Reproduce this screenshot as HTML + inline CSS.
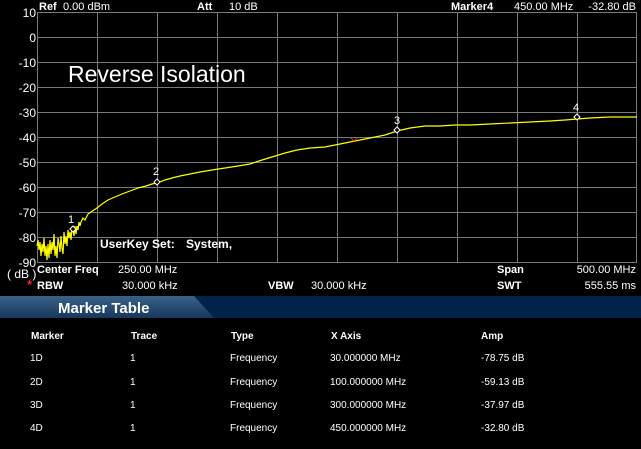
<!DOCTYPE html>
<html><head><meta charset="utf-8"><style>
html,body{margin:0;padding:0;background:#000;width:641px;height:449px;overflow:hidden}
svg{display:block;font-family:"Liberation Sans",sans-serif}
.b{font-weight:bold}
</style></head><body>
<svg width="641" height="449" viewBox="0 0 641 449">
<rect width="641" height="449" fill="#000"/>
<g stroke="#7a7a7a" stroke-width="1">
<line x1="37.5" y1="12" x2="37.5" y2="262"/><line x1="97.5" y1="12" x2="97.5" y2="262"/><line x1="157.5" y1="12" x2="157.5" y2="262"/><line x1="217.5" y1="12" x2="217.5" y2="262"/><line x1="277.5" y1="12" x2="277.5" y2="262"/><line x1="337.5" y1="12" x2="337.5" y2="262"/><line x1="397.5" y1="12" x2="397.5" y2="262"/><line x1="457.5" y1="12" x2="457.5" y2="262"/><line x1="517.5" y1="12" x2="517.5" y2="262"/><line x1="577.5" y1="12" x2="577.5" y2="262"/><line x1="636.5" y1="12" x2="636.5" y2="262"/>
<line x1="37" y1="12.5" x2="637" y2="12.5"/><line x1="37" y1="37.5" x2="637" y2="37.5"/><line x1="37" y1="62.5" x2="637" y2="62.5"/><line x1="37" y1="87.5" x2="637" y2="87.5"/><line x1="37" y1="112.5" x2="637" y2="112.5"/><line x1="37" y1="137.5" x2="637" y2="137.5"/><line x1="37" y1="162.5" x2="637" y2="162.5"/><line x1="37" y1="187.5" x2="637" y2="187.5"/><line x1="37" y1="212.5" x2="637" y2="212.5"/><line x1="37" y1="237.5" x2="637" y2="237.5"/><line x1="37" y1="262.5" x2="637" y2="262.5"/>
</g>
<g fill="#fff" font-size="12" text-anchor="end">
<text x="36" y="17">10</text><text x="36" y="42">0</text><text x="36" y="67">-10</text><text x="36" y="92">-20</text><text x="36" y="117">-30</text><text x="36" y="142">-40</text><text x="36" y="167">-50</text><text x="36" y="192">-60</text><text x="36" y="217">-70</text><text x="36" y="242">-80</text><text x="36" y="267">-90</text>
</g>
<text x="7" y="278" fill="#fff" font-size="12">( dB )</text>
<text x="68" y="82" fill="#fff" font-size="23">Reverse Isolation</text>
<g fill="#fff" font-size="11">
<text x="39" y="10" class="b">Ref</text><text x="63" y="10">0.00 dBm</text>
<text x="197" y="10" class="b">Att</text><text x="229" y="10">10 dB</text>
<text x="451" y="10" class="b">Marker4</text><text x="514" y="10">450.00 MHz</text><text x="636" y="10" text-anchor="end">-32.80 dB</text>
<text x="37" y="273" class="b">Center Freq</text><text x="118" y="273">250.00 MHz</text>
<text x="497" y="273" class="b">Span</text><text x="636" y="273" text-anchor="end">500.00 MHz</text>
<text x="27" y="289" fill="#f22" font-size="13" class="b">*</text>
<text x="37" y="289" class="b">RBW</text><text x="122" y="289">30.000 kHz</text>
<text x="268" y="289" class="b">VBW</text><text x="311" y="289">30.000 kHz</text>
<text x="497" y="289" class="b">SWT</text><text x="636" y="289" text-anchor="end">555.55 ms</text>
<text x="100" y="248" class="b" font-size="12">UserKey Set:</text><text x="186" y="248" class="b" font-size="12">System,</text>
</g>
<polyline fill="none" stroke="#ffff00" stroke-width="1.2" points="37,246 38,240 39,250 40,242 41,256 42,244 43,252 44,238 45,256 46,246 47,260 48,244 49,258 50,240 51,254 52,242 53,250 54,234 55,256 56,246 57,258 58,238 59,244 60,252 61,236 62,248 63,254 64,232 65,244 66,236 67,246 68,230 69,238 70,232 71,240 72,228 73,230 74,236 75,226 76,234 77,226 78,230 79,222 80,226 81,222 83,218 85,220 88,214 91,212 94,210 97,208 102,204 108,200 115,197 122,194 130,191 138,188 146,186 152,184 157,183 165,180 172,178 180,176 190,174 200,172 212,170 225,168 238,166 250,164 262,160 272,157 285,153 297,150 310,148 325,147 340,144 355,141 370,138 385,135 397,131 410,128 425,126 440,126 455,125 470,125 490,124 510,123 530,122 550,121 565,120 577,119 590,118 610,117 637,117"/>
<path d="M351,138 l3,3 l3,-3" stroke="#f22" fill="none"/>
<g fill="#000" stroke="#fff" stroke-width="1">
<path d="M73,226 l3,3 l-3,3 l-3,-3z"/><path d="M157,179 l3,3 l-3,3 l-3,-3z"/><path d="M397,127 l3,3 l-3,3 l-3,-3z"/><path d="M577,114 l3,3 l-3,3 l-3,-3z"/>
</g>
<g fill="#fff" font-size="11" text-anchor="middle">
<text x="71" y="223">1</text><text x="156" y="175">2</text><text x="397" y="124">3</text><text x="576" y="111">4</text>
</g>
<defs><linearGradient id="g" x1="0" y1="0" x2="0" y2="1"><stop offset="0" stop-color="#3a6288"/><stop offset="1" stop-color="#17375c"/></linearGradient></defs>
<rect x="0" y="296" width="641" height="22" fill="#022349"/>
<path d="M0,296 L194,296 L214,318 L0,318Z" fill="url(#g)"/>
<text x="58" y="313" fill="#fff" font-size="15" class="b">Marker Table</text>
<g fill="#fff" font-size="10">
<g class="b"><text x="31" y="339">Marker</text><text x="131" y="339">Trace</text><text x="231" y="339">Type</text><text x="331" y="339">X Axis</text><text x="481" y="339">Amp</text></g>
<text x="30" y="361">1D</text><text x="130" y="361">1</text><text x="230" y="361">Frequency</text><text x="330" y="361">30.000000 MHz</text><text x="481" y="361">-78.75 dB</text>
<text x="30" y="385">2D</text><text x="130" y="385">1</text><text x="230" y="385">Frequency</text><text x="330" y="385">100.000000 MHz</text><text x="481" y="385">-59.13 dB</text>
<text x="30" y="408">3D</text><text x="130" y="408">1</text><text x="230" y="408">Frequency</text><text x="330" y="408">300.000000 MHz</text><text x="481" y="408">-37.97 dB</text>
<text x="30" y="431">4D</text><text x="130" y="431">1</text><text x="230" y="431">Frequency</text><text x="330" y="431">450.000000 MHz</text><text x="481" y="431">-32.80 dB</text>
</g>
</svg>
</body></html>
